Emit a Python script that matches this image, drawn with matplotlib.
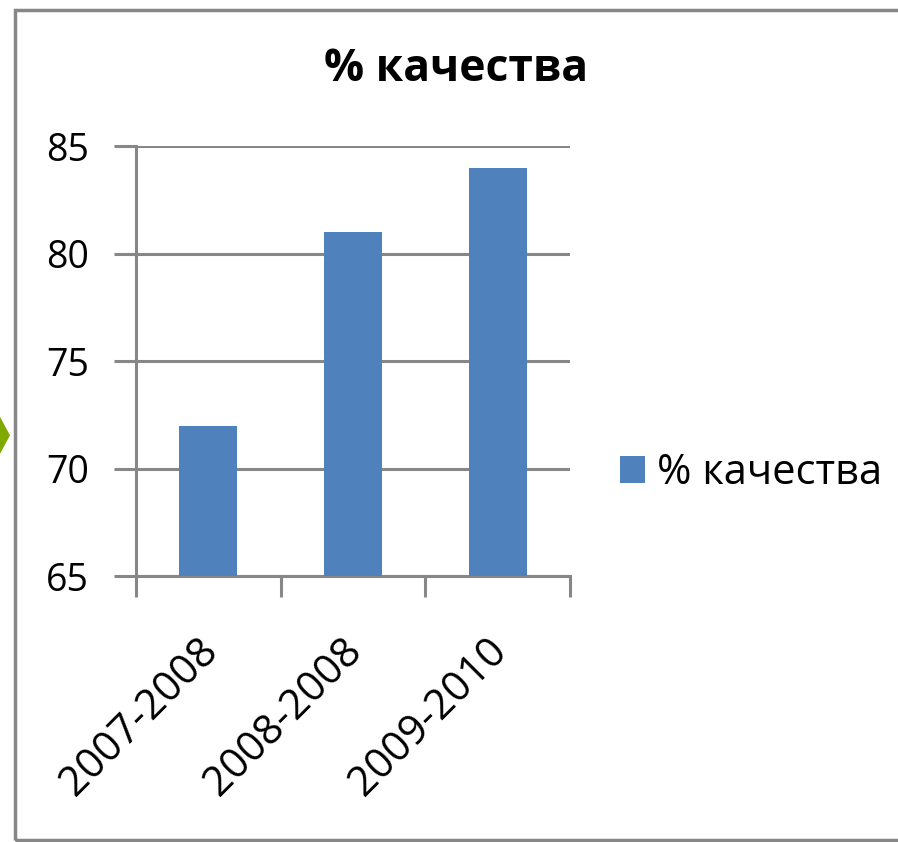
import matplotlib.pyplot as plt
import matplotlib.transforms as mtransforms
from matplotlib.patches import Rectangle, Polygon

# data
years = ["2007-2008", "2008-2008", "2009-2010"]
quality = [72, 81, 84]
series_name = "% качества"

plt.rcParams["font.family"] = ["Open Sans", "DejaVu Sans"]
grey = "#878787"

fig = plt.figure(figsize=(8.98, 8.42), dpi=100)
ax = fig.add_axes([0.1514, 0.3159, 0.4833, 0.5107])

x = range(len(years))
ax.bar(x, quality, width=0.4, color="#4F81BD", label=series_name, zorder=3)

ax.set_ylim(65, 85)
ax.set_xlim(-0.5, 2.5)
ax.set_yticks([65, 70, 75, 80, 85])
ax.yaxis.grid(True, color=grey, linewidth=2.2, zorder=0)
ax.set_axisbelow(True)

# category ticks sit on the boundaries, labels in the middle
ax.set_xticks([-0.5, 0.5, 1.5, 2.5])
ax.set_xticklabels([])
ax.set_xticks(list(x), minor=True)
ax.set_xticklabels(years, minor=True, rotation=45, ha="right",
                   rotation_mode="anchor", fontsize=30)
ax.tick_params(axis="x", which="minor", length=0, pad=40)
ax.tick_params(axis="x", which="major", length=15, width=2.2, color=grey)
ax.tick_params(axis="y", length=16, width=2.2, color=grey, labelsize=27, pad=18)

shift = mtransforms.ScaledTranslation(-0.12, 0.02, fig.dpi_scale_trans)
for lab in ax.get_xticklabels(minor=True):
    lab.set_transform(lab.get_transform() + shift)

for s in ["top", "right"]:
    ax.spines[s].set_visible(False)
for s in ["left", "bottom"]:
    ax.spines[s].set_color(grey)
    ax.spines[s].set_linewidth(2.2)

fig.text(0.508, 0.918, series_name, ha="center", va="center",
         fontsize=32, fontweight="bold")

fig.legend(loc="center left", bbox_to_anchor=(0.690, 0.438), frameon=False,
           fontsize=30, handlelength=0.6, handleheight=0.6, handletextpad=0.3,
           borderpad=0, borderaxespad=0)

# slide frame and little arrow on the left
fig.patches.append(Rectangle((15 / 898, 2 / 842), 1.0, 830 / 842, transform=fig.transFigure,
                             fill=False, edgecolor=grey, linewidth=2.5))
fig.patches.append(Polygon([(0, 0.505), (10 / 898, 0.483), (0, 0.461)], closed=True,
                           transform=fig.transFigure, facecolor="#7FA800",
                           edgecolor="none"))

fig.savefig("out.png", dpi=100)
